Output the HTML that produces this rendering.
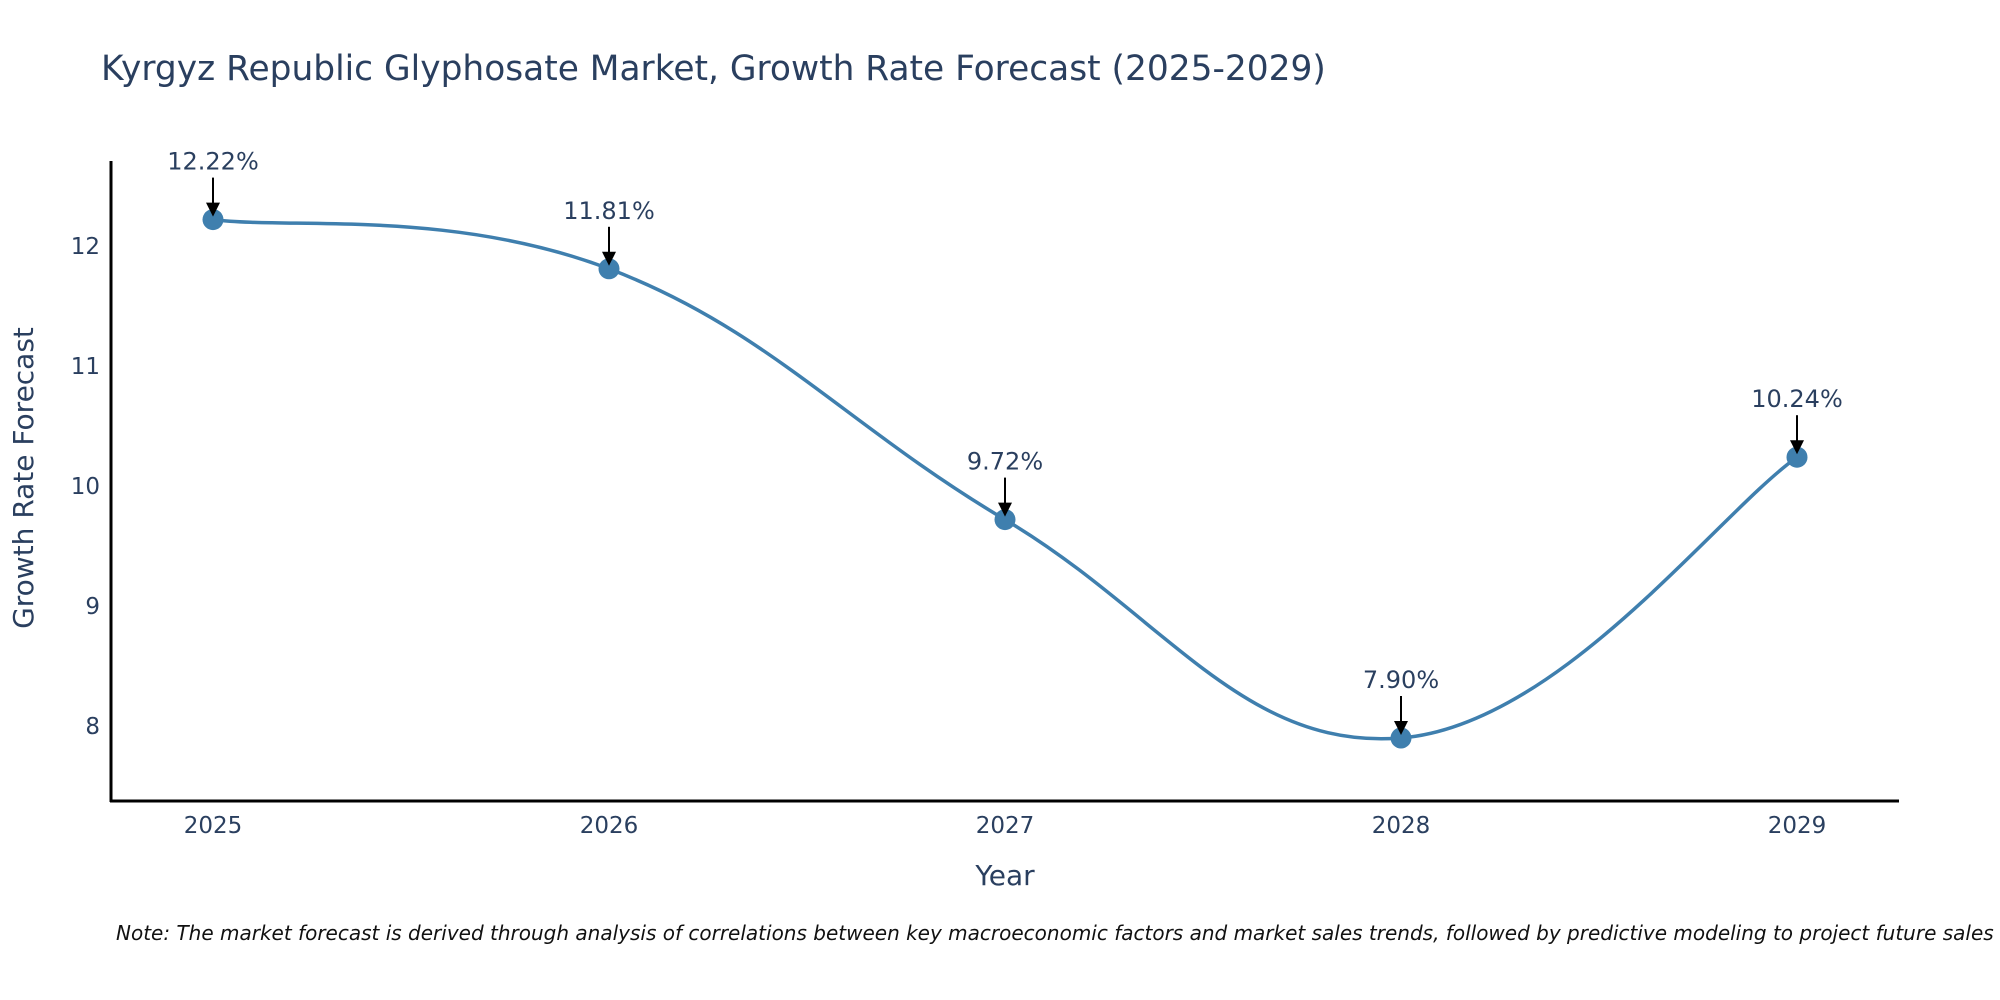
<!DOCTYPE html>
<html><head><meta charset="utf-8"><style>
html,body{margin:0;padding:0;background:#fff;}
svg{display:block;font-family:"DejaVu Sans","Liberation Sans",sans-serif;}
</style></head><body>
<svg id="chart" width="2000" height="1000" viewBox="0 0 2000 1000">
<text x="101" y="80" font-size="34.4" fill="#2a3f5f">Kyrgyz Republic Glyphosate Market, Growth Rate Forecast (2025-2029)</text>
<g id="yticks"></g>
<g id="xticks"></g>
<line x1="111" y1="161" x2="111" y2="802" stroke="#000" stroke-width="3"/>
<line x1="110" y1="801" x2="1899" y2="801" stroke="#000" stroke-width="3"/>
<path id="line" fill="none" stroke="#3f7fae" stroke-width="3.5"/>
<g id="points"></g>
<g id="annos"></g>
<text x="33" y="478" font-size="28" fill="#2a3f5f" text-anchor="middle" transform="rotate(-90 33 478)">Growth Rate Forecast</text>
<text x="1005" y="885" font-size="28" fill="#2a3f5f" text-anchor="middle">Year</text>
<text x="116" y="940" font-size="20" font-style="italic" fill="#111">Note: The market forecast is derived through analysis of correlations between key macroeconomic factors and market sales trends, followed by predictive modeling to project future sales</text>
</svg>
<script>
const years = ["2025","2026","2027","2028","2029"];
const values = [12.22, 11.81, 9.72, 7.90, 10.24];
const labels = ["12.22%","11.81%","9.72%","7.90%","10.24%"];
const yTicks = [8, 9, 10, 11, 12];

const NS = "http://www.w3.org/2000/svg";
function xs(i){ return 213 + i * (1797 - 213) / (years.length - 1); }
function ys(v){ return 246 + (12 - v) * 120; }
function mk(tag, attrs, parent){ const e = document.createElementNS(NS, tag); for (const k in attrs) e.setAttribute(k, attrs[k]); parent.appendChild(e); return e; }

const yt = document.getElementById('yticks');
yTicks.forEach(t => {
  const e = mk('text', {x: 100, y: ys(t) + 8, 'font-size': 23, fill: '#2a3f5f', 'text-anchor': 'end'}, yt);
  
  
  e.textContent = t;
});
const xt = document.getElementById('xticks');
years.forEach((y, i) => {
  const e = mk('text', {x: xs(i), y: 833, 'font-size': 23, fill: '#2a3f5f', 'text-anchor': 'middle'}, xt);
  
  
  e.textContent = y;
});

const pts = values.map((v, i) => [xs(i), ys(v)]);
let d = `M${pts[0][0]},${pts[0][1]}`;
const s = 1/5;
for (let i = 0; i < pts.length - 1; i++) {
  const p0 = pts[Math.max(i - 1, 0)], p1 = pts[i], p2 = pts[i + 1], p3 = pts[Math.min(i + 2, pts.length - 1)];
  const c1 = [p1[0] + (p2[0] - p0[0]) * s, p1[1] + (p2[1] - p0[1]) * s];
  const c2 = [p2[0] - (p3[0] - p1[0]) * s, p2[1] - (p3[1] - p1[1]) * s];
  d += ` C${c1[0]},${c1[1]} ${c2[0]},${c2[1]} ${p2[0]},${p2[1]}`;
}
document.getElementById('line').setAttribute('d', d);

const pg = document.getElementById('points');
const ag = document.getElementById('annos');
pts.forEach((p, i) => {
  const c = mk('circle', {cx: p[0], cy: p[1], r: 10.5, fill: '#3f7fae'}, pg);
  
  
  const l = mk('line', {x1: p[0], y1: p[1] - 42, x2: p[0], y2: p[1] - 14, stroke: '#000', 'stroke-width': 2}, ag);
  
  
  const h = mk('polygon', {points: `${p[0]-7},${p[1]-17} ${p[0]+7},${p[1]-17} ${p[0]},${p[1]-3}`, fill: '#000'}, ag);
  
  
  const t = mk('text', {x: p[0], y: p[1] - 50, 'font-size': 24, fill: '#2a3f5f', 'text-anchor': 'middle'}, ag);
  
  
  t.textContent = labels[i];
});
</script>
</body></html>
